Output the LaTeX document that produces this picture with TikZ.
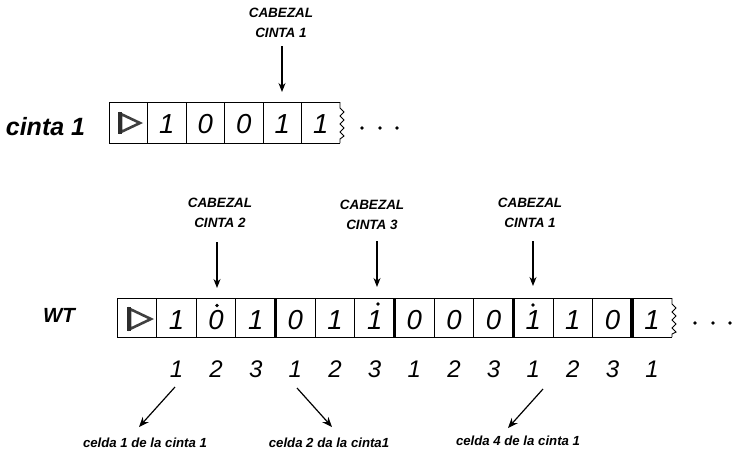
\documentclass[tikz,border=0pt]{standalone}
\usepackage{fontspec}
\setmainfont{Liberation Sans}
\usetikzlibrary{arrows.meta}
\begin{document}
\begin{tikzpicture}[x=1pt,y=-1pt,
  tapeline/.style={line width=1pt},
  sepline/.style={line width=3.8pt},
  headlab/.style={font=\fontsize{13.5}{20}\selectfont\bfseries\itshape, align=center, inner sep=0pt},
  headarrow/.style={line width=1.1pt,-{Stealth[length=9pt,width=7pt]}},
  sym/.style={font=\fontsize{27.5}{27.5}\selectfont\itshape, anchor=base, inner sep=0pt},
  idx/.style={font=\fontsize{24}{24}\selectfont\itshape, anchor=base, inner sep=0pt},
  tapename/.style={font=\bfseries\itshape, inner sep=0pt},
  celllab/.style={font=\fontsize{13.2}{13.2}\selectfont\bfseries\itshape, inner sep=0pt},
  ptr/.style={line width=1.2pt,-{Stealth[length=10pt,width=8pt]}},
  zig/.style={line width=0.9pt},
  startmark/.style={line width=2.6pt, gray!50!black, line join=miter},
  startbar/.style={line width=4pt, gray!35!black},
  tapedot/.style={fill=black},
]
\useasboundingbox (0,0) rectangle (734,451);

% ---------------- top tape: cinta 1 ----------------
\node[tapename, font=\fontsize{25}{25}\selectfont\bfseries\itshape] (cinta) at (45.5,127) {cinta 1};
\draw[tapeline] (340,102) -- (109,102) -- (109,143) -- (340,143);
\foreach \i in {1,...,5} \draw[tapeline] ({109+38.5*\i},102) -- ++(0,41);
\draw[zig] (340,102) -- (340,108) -- (344,112) -- (340,116) -- (344,120) -- (340,124) -- (344,128) -- (340,132) -- (344,136) -- (340,139) -- (340,143);
\draw[startmark] (121,114) -- (140,123) -- (121,132) -- cycle;
\draw[startbar] (120,112) -- (120,134);
\foreach \s [count=\i] in {1,0,0,1,1}
  \node[sym] (ta\i) at ({109+38.5*(\i+0.5)},133.5) {\s};
\foreach \x [count=\i] in {362,380,397} \fill[tapedot] (\x,128) circle (1.9);

\node[headlab] (hl0) at (281,23) {CABEZAL\\CINTA 1};
\coordinate (h0s) at (282,46);
\coordinate (h0e) at (282,92);
\draw[headarrow] (h0s) -- (h0e);

% ---------------- bottom tape: WT ----------------
\node[tapename, font=\fontsize{20.5}{20.5}\selectfont\bfseries\itshape] (wt) at (59,315) {WT};
\draw[tapeline] (672,298) -- (117,298) -- (117,337) -- (672,337);
\foreach \i in {1,...,13} \draw[tapeline] ({117+39.64*\i},298) -- ++(0,39);
\foreach \i in {4,7,10,13} \draw[sepline] ({117+39.64*\i},298) -- ++(0,39);
\draw[zig] (672,298) -- (672,304) -- (676,308) -- (672,312) -- (676,316) -- (672,320) -- (676,324) -- (672,328) -- (676,332) -- (672,334) -- (672,337);
\draw[startmark] (130,309) -- (151,319) -- (130,329) -- cycle;
\draw[startbar] (129,307) -- (129,331);
\foreach \s [count=\i] in {1,0,1,0,1,1,0,0,0,1,1,0,1}
  \node[sym] (tb\i) at ({117+39.64*(\i+0.5)},329.5) {\s};
\fill[tapedot] (217,305.5) circle (1.9);
\fill[tapedot] (378,304) circle (1.9);
\fill[tapedot] (533,305) circle (1.9);
\foreach \x in {695,713,730} \fill[tapedot] (\x,323) circle (1.9);

% head labels and arrows
\node[headlab] (hl2) at (220,213) {CABEZAL\\CINTA 2};
\node[headlab] (hl3) at (372,215) {CABEZAL\\CINTA 3};
\node[headlab] (hl1) at (530,213) {CABEZAL\\CINTA 1};
\coordinate (h2s) at (217,242); \coordinate (h2e) at (217,288);
\coordinate (h3s) at (377,241); \coordinate (h3e) at (377,287);
\coordinate (h1s) at (533,241); \coordinate (h1e) at (533,286);
\draw[headarrow] (h2s) -- (h2e);
\draw[headarrow] (h3s) -- (h3e);
\draw[headarrow] (h1s) -- (h1e);

% index row
\foreach \s [count=\i] in {1,2,3,1,2,3,1,2,3,1,2,3,1}
  \node[idx] (ix\i) at ({117+39.64*(\i+0.5)},377) {\s};

% cell labels
\node[celllab] (c1) at (145,443) {celda 1 de la cinta 1};
\node[celllab] (c2) at (329,443) {celda 2 da la cinta1};
\node[celllab] (c4) at (518,441) {celda 4 de la cinta 1};
\coordinate (p1s) at (175,387); \coordinate (p1e) at (139,427);
\coordinate (p2s) at (297,388); \coordinate (p2e) at (332,427);
\coordinate (p3s) at (543,389); \coordinate (p3e) at (508,428);
\draw[ptr] (p1s) -- (p1e);
\draw[ptr] (p2s) -- (p2e);
\draw[ptr] (p3s) -- (p3e);
\end{tikzpicture}
\end{document}
